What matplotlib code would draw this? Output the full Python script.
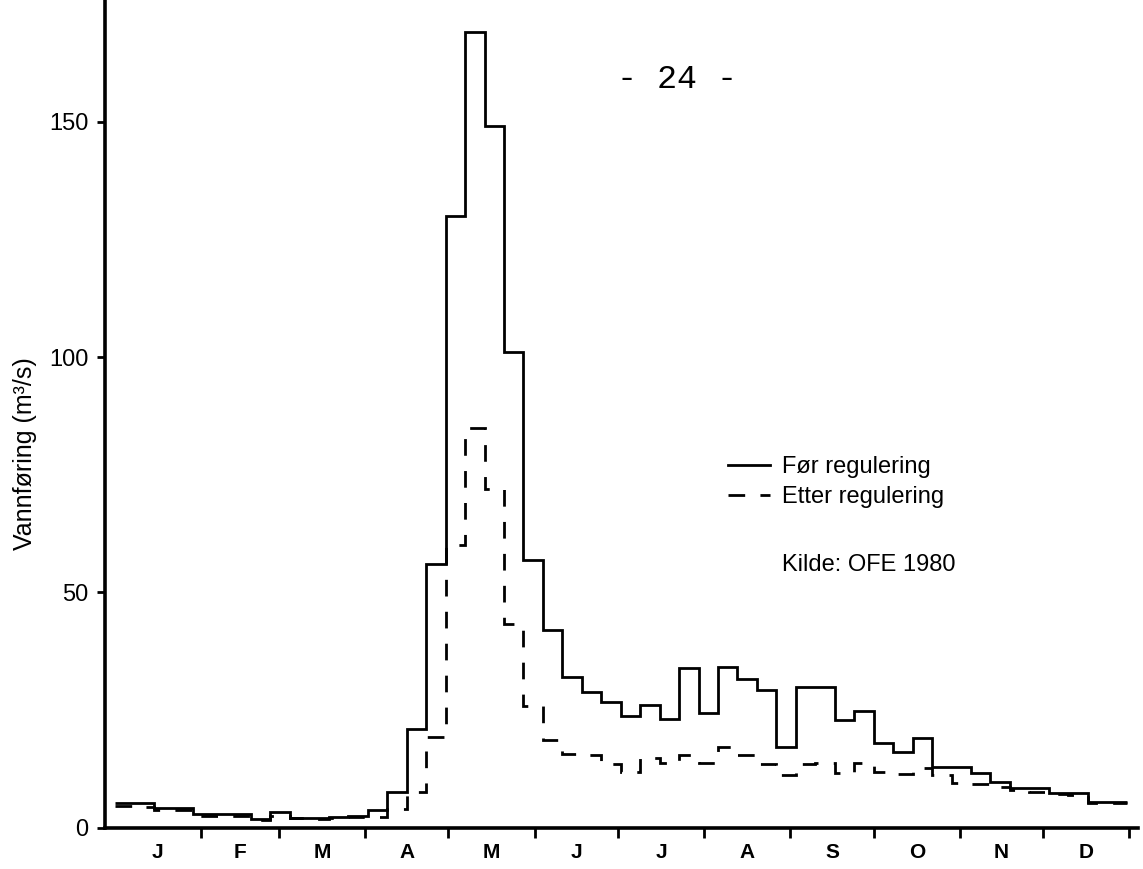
import numpy as np
import matplotlib.pyplot as plt

plt.rcParams['font.family'] = ['Liberation Sans', 'DejaVu Sans']
plt.rcParams['lines.scale_dashes'] = False

months = ['J', 'F', 'M', 'A', 'M', 'J', 'J', 'A', 'S', 'O', 'N', 'D']
month_days = [31, 28, 31, 30, 31, 30, 31, 31, 30, 31, 30, 31]

# weekly discharge (m3/s), week 1..52
for_regulering = [5.3, 5.3, 4.2, 4.2, 3.0, 3.0, 3.0, 1.9, 3.4, 2.1, 2.2, 2.3, 2.5,
                  3.8, 7.6, 21, 56, 130, 169, 149, 101, 57, 42, 32, 28.9, 26.8,
                  23.8, 26.1, 23.1, 34.0, 24.4, 34.2, 31.6, 29.3, 17.2, 30, 30, 22.9,
                  24.9, 18.0, 16.1, 19.1, 13.0, 13.0, 11.6, 9.8, 8.4, 8.4, 7.4, 7.4,
                  5.5, 5.5]
etter_regulering = [4.6, 4.4, 3.8, 3.8, 2.5, 2.5, 2.5, 1.7, 2.5, 2.1, 2.0, 2.2, 2.4,
                    2.3, 4.0, 7.6, 19.3, 60, 85, 72, 43.3, 25.9, 18.7, 15.7, 15.5,
                    13.6, 11.9, 14.9, 13.8, 15.5, 13.8, 17.2, 15.5, 13.6, 11.3, 13.6,
                    13.8, 11.7, 13.8, 11.9, 11.5, 12.7, 11.3, 9.6, 9.4, 8.8, 8.0, 7.7,
                    7.2, 7.0, 5.4, 5.3]

weeks = np.arange(len(for_regulering) + 1)
bounds = np.cumsum(month_days) / 7.0
centers = bounds - np.array(month_days) / 14.0

fig = plt.figure(figsize=(11.43, 8.69), dpi=100)
ax = fig.add_axes([0.0919, 0.0472, 0.9037, 0.9528])

ax.stairs(for_regulering, weeks, baseline=None, color='black', linewidth=2.0,
          label='Før regulering')
ax.stairs(etter_regulering, weeks, baseline=None, color='black', linewidth=2.0,
          linestyle=(0, (12, 11)), label='Etter regulering')

ax.set_xlim(-0.5, 52.58)
ax.set_ylim(0, 175.8)

for side in ['top', 'right']:
    ax.spines[side].set_visible(False)
for side in ['left', 'bottom']:
    ax.spines[side].set_linewidth(2.6)

ax.set_yticks([0, 50, 100, 150])
ax.tick_params(axis='y', length=6, width=2, labelsize=17, pad=6)
ax.set_xticks(centers)
ax.set_xticklabels(months, fontweight='bold')
ax.set_xticks(bounds, minor=True)
ax.tick_params(axis='x', which='major', length=0, labelsize=15, pad=11)
ax.tick_params(axis='x', which='minor', length=7, width=2)

fig.text(0.0219, 0.367, 'Vannføring (m³/s)', rotation=90, fontsize=18,
         ha='center', va='bottom')

ax.legend(loc='upper left', bbox_to_anchor=(0.603, 0.449), frameon=False,
          fontsize=17, handlelength=1.8, handletextpad=0.5, labelspacing=0.35,
          borderaxespad=0, borderpad=0)
ax.text(34.3, 55.8, 'Kilde: OFE 1980', fontsize=17, va='center', ha='left')

fig.text(0.592, 0.908, '- 24 -', fontsize=24, family='Liberation Mono',
         ha='center', va='center')

fig.savefig('out.png', dpi=100)
